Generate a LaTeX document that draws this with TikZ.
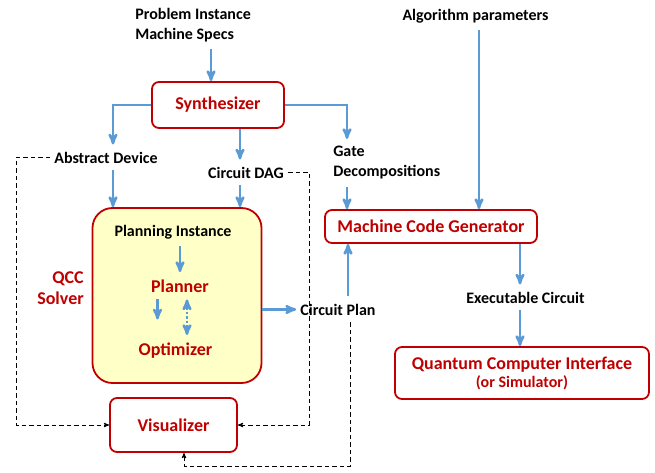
\documentclass[tikz,border=0pt]{standalone}
\usepackage{fontspec}
\setmainfont{Carlito}
\usetikzlibrary{arrows}

\definecolor{qblue}{RGB}{91,155,213}
\definecolor{qred}{RGB}{192,0,0}
\definecolor{qyellow}{RGB}{255,255,200}

\begin{document}
\begin{tikzpicture}[x=1pt,y=-1pt,>=stealth',semithick]
    \tikzstyle{flow}=[->, draw=qblue, line width=2.5pt]
    \tikzstyle{link}=[->, black, line width=0.9pt, dash pattern=on 4.5pt off 3pt]
    \tikzstyle{lbl}=[font=\fontsize{16}{20}\selectfont\bfseries, inner xsep=4pt, inner ysep=7pt]
    \tikzstyle{rlbl}=[lbl, font=\fontsize{18}{21}\selectfont\bfseries, text=qred]
    \tikzstyle{box}=[draw=qred, line width=1.8pt, rounded corners=7pt, fill=white, text=qred, font=\fontsize{18}{18}\selectfont\bfseries]

    \useasboundingbox (0,0) rectangle (655,472);

    % inputs and generated artefacts
    \node[lbl, align=left, anchor=north west] (PI) at (131,1) {Problem Instance\\Machine Specs};
    \node[lbl, anchor=base] (AP) at (475.5,20) {Algorithm parameters};
    \node[lbl, anchor=base] (AD) at (106,163) {Abstract Device};
    \node[lbl, anchor=base] (CD) at (246,178) {Circuit DAG};
    \node[lbl, align=left, anchor=north west] (GD) at (329,139) {Gate\\Decompositions};
    \node[lbl, anchor=base] (CP) at (338,315) {Circuit Plan};
    \node[lbl, anchor=base] (EC) at (525.5,303) {Executable Circuit};

    % components
    \node[box, minimum width=132pt, minimum height=46pt] (SY) at (218,105) {Synthesizer};
    \node[box, minimum width=212pt, minimum height=33pt] (MCG) at (431,226.5) {Machine Code Generator};
    \node[box, minimum width=254pt, minimum height=52pt, align=center] (QCI) at (522,373)
        {Quantum Computer Interface\\{\fontsize{16}{16}\selectfont(or Simulator)}};
    \node[box, minimum width=127pt, minimum height=54pt] (VIS) at (173.5,425) {Visualizer};

    % solver
    \node[box, fill=qyellow, rounded corners=20pt, minimum width=169pt, minimum height=175pt] (QCC) at (177,295.5) {};
    \node[rlbl, align=right, anchor=north east] (QS) at (88,264) {QCC\\Solver};
    \node[lbl, anchor=base] (PN) at (173,236) {Planning Instance};
    \node[rlbl, anchor=base] (PL) at (180,292) {Planner};
    \node[rlbl, anchor=base] (OP) at (175.5,355) {Optimizer};

    % data flow
    \draw[flow] ([xshift=-7pt]SY.north |- PI.south) -- ([xshift=-7pt]SY.north);
    \draw[flow] (SY.west) -| ([xshift=7pt]AD.north);
    \draw[flow] ([xshift=22pt]SY.south) -- ([xshift=22pt]SY.south |- CD.north);
    \draw[flow] (SY.east) -| ([xshift=18pt]GD.north west);
    \draw[flow] ([xshift=7pt]AD.south) -- ([xshift=7pt]AD.south |- QCC.north);
    \draw[flow] ([xshift=-6pt]CD.south) -- ([xshift=-6pt]CD.south |- QCC.north);
    \draw[flow] ([xshift=18pt]GD.south west) -- ([xshift=18pt]GD.south west |- MCG.north);
    \draw[flow] ([xshift=3.5pt]AP.south) -- ([xshift=3.5pt]AP.south |- MCG.north);
    \draw[flow] (PN.south -| PL) -- (PL.north);
    \draw[flow] ([xshift=-22.5pt]PL.south) -- ++(0,20);
    \draw[<->, draw=qblue, line width=2.5pt, dash pattern=on 2.5pt off 2pt] ([xshift=7pt]PL.south) -- ([xshift=7pt]PL.south |- OP.north);
    \draw[flow] (QCC.east |- CP) -- (CP.west);
    \draw[flow] ([xshift=10pt]CP.north) -- ([xshift=10pt]CP.north |- MCG.south);
    \draw[flow] ([xshift=-5.5pt]EC.north |- MCG.south) -- ([xshift=-5.5pt]EC.north);
    \draw[flow] ([xshift=-5.5pt]EC.south) -- ([xshift=-5.5pt]EC.south |- QCI.north);

    % feeds into the visualizer
    \draw[link] (AD.west) -| ([xshift=-34pt]AD.west) |- (VIS.west);
    \draw[link] (CD.east) -| ([xshift=21pt]CD.east) |- (VIS.east);
    \draw[link] ([xshift=12pt]CP.south) -- ++(0,144) -| ([xshift=10.5pt]VIS.south);
\end{tikzpicture}
\end{document}
